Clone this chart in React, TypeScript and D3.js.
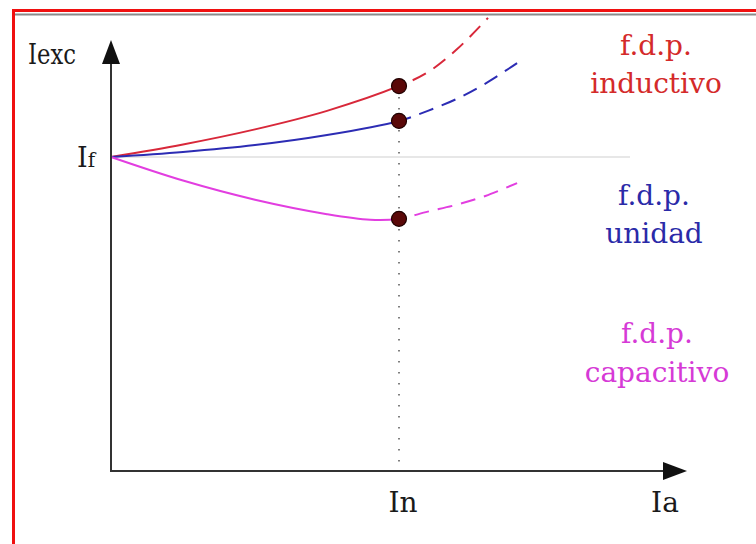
import React from "react";
import * as d3 from "d3";

// Armature current Ia in per-unit of rated current In; excitation current in per-unit of If
const inductivoIa = [0, 0.25, 0.5, 0.75, 1, 1.1, 1.2, 1.309];
const inductivoIexc = [1, 1.04, 1.088, 1.147, 1.226, 1.27, 1.342, 1.443];

const unidadIa = [0, 0.25, 0.5, 0.75, 1, 1.1, 1.2, 1.3, 1.41];
const unidadIexc = [1, 1.016, 1.038, 1.07, 1.115, 1.147, 1.185, 1.234, 1.299];

const capacitivoIa = [0, 0.25, 0.5, 0.75, 0.9, 1, 1.1, 1.2, 1.3, 1.41];
const capacitivoIexc = [1, 0.925, 0.864, 0.818, 0.8, 0.803, 0.826, 0.848, 0.876, 0.917];

const IN = 1;
const IF = 1;

const seriesNames = ["inductivo", "unidad", "capacitivo"];
const seriesColors = ["#d8283a", "#2c2cb4", "#e23ee0"];
const labelColors = ["#d42a2a", "#2a2aa8", "#d63ad6"];

const W = 756;
const H = 544;

export default function App() {
  const x = d3.scaleLinear().domain([0, 1]).range([111, 399]);
  const y = d3.scaleLinear().domain([0, 1]).range([471, 157]);

  const line = d3
    .line<[number, number]>()
    .x((d) => x(d[0]))
    .y((d) => y(d[1]))
    .curve(d3.curveCatmullRom.alpha(0.5));

  const zip = (a: number[], b: number[]) => a.map((v, i) => [v, b[i]] as [number, number]);

  const curves = [
    zip(inductivoIa, inductivoIexc),
    zip(unidadIa, unidadIexc),
    zip(capacitivoIa, capacitivoIexc),
  ];
  const ratedValues = curves.map((pts) => pts.find((p) => p[0] === IN)![1]);

  const x0 = x(0);
  const y0 = y(0);
  const xIn = x(IN);
  const yIf = y(IF);

  const font = "'DejaVu Serif', serif";
  const labelPos = [
    { cx: 656, y1: 55, y2: 93 },
    { cx: 654, y1: 205, y2: 243 },
    { cx: 657, y1: 343, y2: 382 },
  ];

  return (
    <svg
      width={W}
      height={H}
      style={{ position: "absolute", left: 0, top: 0, background: "#fff" }}
      fontFamily={font}
    >
      <defs>
        <clipPath id="below-rated">
          <rect x={0} y={0} width={xIn} height={H} />
        </clipPath>
        <clipPath id="above-rated">
          <rect x={xIn} y={16} width={W - xIn} height={H} />
        </clipPath>
      </defs>
      <rect x={0} y={0} width={W} height={H} fill="#fff" />
      {/* frame */}
      <line x1={15} y1={14.5} x2={W} y2={14.5} stroke="#8a8a8a" strokeWidth={2} />
      <rect x={13.5} y={10.5} width={W + 10} height={H + 10} fill="none" stroke="#f01010" strokeWidth={3} />

      {/* If reference line */}
      <line x1={x0} y1={yIf} x2={630} y2={yIf} stroke="#cfcfcf" strokeWidth={1} />

      {/* In marker */}
      <line
        x1={xIn}
        y1={y(ratedValues[0])}
        x2={xIn}
        y2={y0}
        stroke="#555"
        strokeWidth={1.5}
        strokeDasharray="1.5 9.5"
      />

      {/* curves: solid up to rated current, dashed beyond */}
      {curves.map((pts, i) => (
        <g key={seriesNames[i]} fill="none" stroke={seriesColors[i]} strokeWidth={2}>
          <path d={line(pts) || ""} clipPath="url(#below-rated)" />
          <path d={line(pts) || ""} clipPath="url(#above-rated)" strokeDasharray="15 9" />
        </g>
      ))}
      {ratedValues.map((v, i) => (
        <circle key={"c" + i} cx={xIn} cy={y(v)} r={7.5} fill="#5a0808" stroke="#200000" strokeWidth={1.2} />
      ))}

      {/* axes */}
      <line x1={x0} y1={y0} x2={x0} y2={60} stroke="#333" strokeWidth={2} />
      <line x1={x0 - 1} y1={y0} x2={666} y2={y0} stroke="#333" strokeWidth={2} />
      <path d={`M${x0},40 L${x0 + 9},64 L${x0 - 9},64 Z`} fill="#111" />
      <path d={`M687,${y0} L663,${y0 - 9} L663,${y0 + 9} Z`} fill="#111" />

      {/* axis labels */}
      <text x={28} y={64} fontSize={27} fill="#1a1a1a" textLength={48} lengthAdjust="spacingAndGlyphs">
        Iexc
      </text>
      <text x={77} y={167} fontSize={27} fill="#1a1a1a">
        I<tspan fontSize={20}>f</tspan>
      </text>
      <text x={xIn + 4} y={512} fontSize={28} fill="#1a1a1a" textAnchor="middle">In</text>
      <text x={665} y={512} fontSize={28} fill="#1a1a1a" textAnchor="middle">Ia</text>

      {/* power factor labels */}
      {seriesNames.map((name, i) => (
        <g key={name} fill={labelColors[i]} fontSize={28} textAnchor="middle">
          <text x={labelPos[i].cx} y={labelPos[i].y1}>f.d.p.</text>
          <text x={labelPos[i].cx} y={labelPos[i].y2}>{name}</text>
        </g>
      ))}
    </svg>
  );
}
